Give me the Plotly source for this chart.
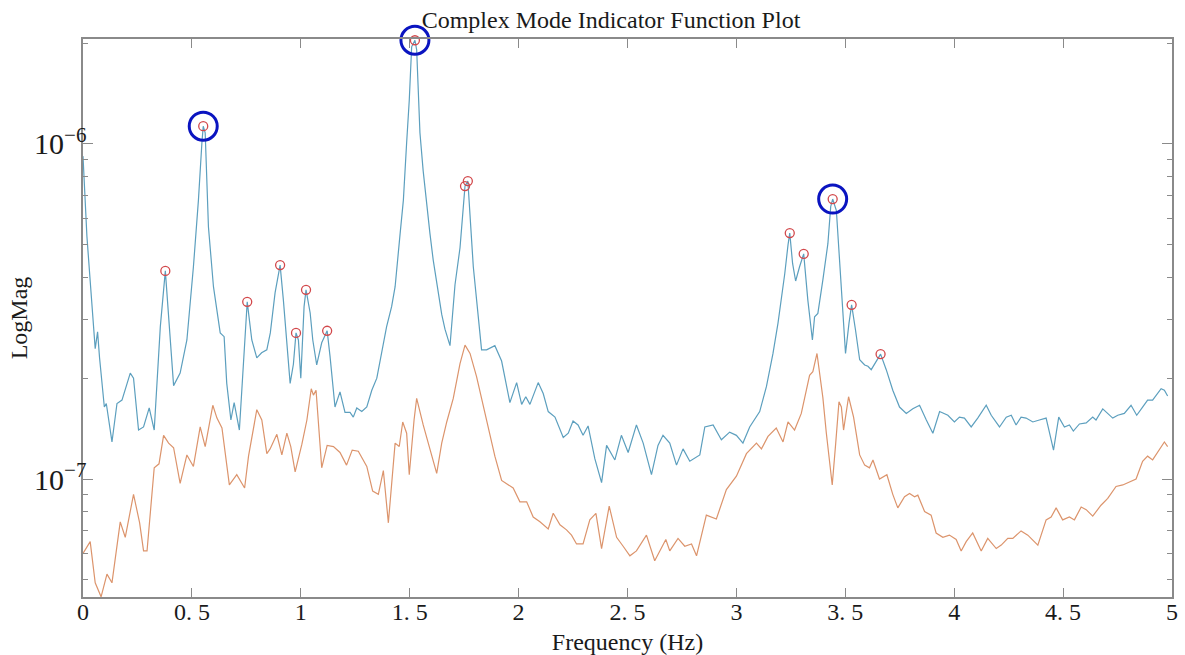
import plotly.graph_objects as go

SCALE = 1e-7  # magnitudes below are listed in units of 1e-7

# First singular value curve (upper, blue)
freq_1 = [0.0, 0.018, 0.033, 0.056, 0.067, 0.076, 0.098, 0.107, 0.133, 0.156, 0.179, 0.194,
          0.217, 0.232, 0.255, 0.278, 0.304, 0.327, 0.355, 0.378, 0.40, 0.416, 0.446, 0.477,
          0.507, 0.53, 0.546, 0.552, 0.561, 0.576, 0.599, 0.63, 0.648, 0.66, 0.679, 0.694,
          0.718, 0.737, 0.754, 0.775, 0.798, 0.82, 0.844, 0.86, 0.882, 0.905, 0.92, 0.951,
          0.966, 0.978, 0.989, 1.0, 1.015, 1.024, 1.043, 1.055, 1.073, 1.096, 1.121, 1.134,
          1.157, 1.18, 1.203, 1.226, 1.241, 1.257, 1.28, 1.303, 1.326, 1.349, 1.372, 1.394,
          1.417, 1.433, 1.456, 1.471, 1.486, 1.498, 1.509, 1.524, 1.532, 1.547, 1.562, 1.578,
          1.593, 1.608, 1.624, 1.647, 1.662, 1.685, 1.708, 1.731, 1.754, 1.767, 1.792, 1.815,
          1.83, 1.853, 1.868, 1.891, 1.922, 1.96, 1.991, 2.014, 2.033, 2.052, 2.09, 2.113,
          2.136, 2.167, 2.205, 2.228, 2.25, 2.273, 2.296, 2.319, 2.35, 2.381, 2.404, 2.442,
          2.472, 2.503, 2.541, 2.572, 2.61, 2.64, 2.663, 2.694, 2.725, 2.755, 2.786, 2.832,
          2.855, 2.893, 2.931, 2.969, 3.0, 3.03, 3.061, 3.107, 3.138, 3.168, 3.191, 3.206,
          3.222, 3.237, 3.245, 3.258, 3.272, 3.29, 3.309, 3.328, 3.349, 3.359, 3.374, 3.397,
          3.42, 3.433, 3.442, 3.459, 3.482, 3.501, 3.517, 3.529, 3.547, 3.566, 3.589, 3.604,
          3.619, 3.642, 3.662, 3.688, 3.718, 3.749, 3.78, 3.81, 3.841, 3.872, 3.902, 3.933,
          3.971, 4.001, 4.024, 4.047, 4.078, 4.108, 4.147, 4.17, 4.208, 4.239, 4.262, 4.284,
          4.307, 4.33, 4.361, 4.391, 4.422, 4.437, 4.456, 4.48, 4.506, 4.529, 4.547, 4.575,
          4.606, 4.636, 4.651, 4.682, 4.705, 4.728, 4.751, 4.781, 4.812, 4.838, 4.865, 4.888,
          4.911, 4.927, 4.95, 4.965, 4.98]
cmif_1 = [9.2, 5.3, 3.9, 2.45, 2.75, 2.3, 1.64, 1.68, 1.29, 1.68, 1.72, 1.84,
          2.07, 2.0, 1.4, 1.43, 1.63, 1.4, 2.85, 4.18, 2.73, 1.9, 2.07, 2.6,
          4.3, 6.8, 10.1, 11.3, 10.8, 5.65, 3.75, 2.73, 2.66, 1.93, 1.5, 1.69,
          1.4, 2.16, 3.38, 2.6, 2.3, 2.38, 2.43, 2.73, 3.6, 4.35, 3.42, 1.93,
          2.2, 2.73, 2.6, 2.0, 3.27, 3.67, 3.13, 2.6, 2.19, 2.55, 2.77, 2.33,
          1.64, 1.82, 1.58, 1.58, 1.53, 1.63, 1.59, 1.64, 1.84, 2.0, 2.38, 2.85,
          3.27, 3.75, 5.4, 6.8, 10.1, 13.5, 19.5, 20.4, 19.1, 10.8, 8.3, 6.5,
          5.4, 4.5, 3.9, 3.1, 2.8, 2.5, 3.8, 4.9, 7.49, 7.75, 4.3, 2.96,
          2.43, 2.43, 2.46, 2.5, 2.25, 1.69, 1.94, 1.67, 1.76, 1.67, 1.94, 1.8,
          1.59, 1.53, 1.33, 1.37, 1.49, 1.45, 1.35, 1.44, 1.15, 0.975, 1.26, 1.14,
          1.35, 1.2, 1.45, 1.28, 1.03, 1.26, 1.35, 1.28, 1.1, 1.23, 1.13, 1.18,
          1.43, 1.45, 1.31, 1.38, 1.35, 1.28, 1.43, 1.59, 1.89, 2.37, 2.92, 3.4,
          4.1, 5.0, 5.42, 4.4, 3.9, 4.3, 4.7, 3.42, 2.6, 3.05, 3.12, 3.93,
          5.04, 6.5, 6.85, 6.33, 3.84, 2.37, 2.92, 3.31, 2.78, 2.27, 2.19, 2.17,
          2.12, 2.24, 2.36, 2.12, 1.84, 1.64, 1.57, 1.62, 1.66, 1.5, 1.37, 1.59,
          1.55, 1.48, 1.53, 1.52, 1.43, 1.52, 1.66, 1.55, 1.43, 1.53, 1.55, 1.45,
          1.53, 1.52, 1.48, 1.5, 1.52, 1.38, 1.22, 1.53, 1.43, 1.45, 1.39, 1.46,
          1.47, 1.53, 1.5, 1.62, 1.57, 1.52, 1.55, 1.57, 1.66, 1.55, 1.64, 1.72,
          1.72, 1.78, 1.86, 1.84, 1.77]

# Second singular value curve (lower, orange)
freq_2 = [0.0, 0.033, 0.056, 0.083, 0.11, 0.133, 0.171, 0.194, 0.232, 0.26, 0.278, 0.294,
          0.327, 0.349, 0.37, 0.393, 0.416, 0.446, 0.477, 0.507, 0.538, 0.561, 0.596, 0.615,
          0.638, 0.672, 0.706, 0.742, 0.76, 0.798, 0.821, 0.844, 0.859, 0.89, 0.913, 0.936,
          0.954, 0.974, 1.005, 1.028, 1.048, 1.058, 1.07, 1.096, 1.121, 1.15, 1.18, 1.21,
          1.236, 1.264, 1.303, 1.33, 1.356, 1.379, 1.402, 1.433, 1.452, 1.468, 1.486, 1.498,
          1.52, 1.532, 1.562, 1.593, 1.624, 1.647, 1.67, 1.7, 1.731, 1.754, 1.777, 1.807,
          1.83, 1.853, 1.891, 1.922, 1.975, 2.006, 2.037, 2.067, 2.098, 2.136, 2.159, 2.19,
          2.22, 2.243, 2.266, 2.296, 2.327, 2.355, 2.381, 2.416, 2.45, 2.48, 2.511, 2.541,
          2.587, 2.625, 2.676, 2.694, 2.732, 2.763, 2.794, 2.817, 2.862, 2.908, 2.954, 3.0,
          3.046, 3.092, 3.115, 3.145, 3.183, 3.214, 3.237, 3.267, 3.298, 3.336, 3.351, 3.37,
          3.397, 3.413, 3.44, 3.456, 3.471, 3.482, 3.492, 3.515, 3.538, 3.566, 3.589, 3.611,
          3.627, 3.657, 3.691, 3.718, 3.741, 3.772, 3.795, 3.818, 3.833, 3.864, 3.894, 3.917,
          3.948, 3.978, 4.009, 4.032, 4.055, 4.085, 4.124, 4.154, 4.193, 4.216, 4.246, 4.269,
          4.307, 4.338, 4.384, 4.422, 4.445, 4.468, 4.498, 4.529, 4.552, 4.583, 4.606, 4.636,
          4.674, 4.705, 4.743, 4.774, 4.819, 4.835, 4.865, 4.888, 4.911, 4.942, 4.965, 4.98]
cmif_2 = [0.6, 0.65, 0.49, 0.445, 0.52, 0.49, 0.745, 0.67, 0.9, 0.74, 0.61, 0.61,
          1.08, 1.11, 1.35, 1.28, 1.24, 0.97, 1.18, 1.09, 1.43, 1.25, 1.66, 1.52,
          1.42, 0.96, 1.03, 0.94, 1.17, 1.61, 1.5, 1.19, 1.23, 1.36, 1.18, 1.37,
          1.25, 1.05, 1.27, 1.5, 1.86, 1.78, 1.84, 1.08, 1.26, 1.25, 1.2, 1.1,
          1.22, 1.21, 1.09, 0.92, 0.9, 1.06, 0.74, 1.28, 1.25, 1.48, 1.37, 1.03,
          1.5, 1.74, 1.45, 1.23, 1.04, 1.28, 1.48, 1.74, 2.21, 2.51, 2.37, 2.02,
          1.75, 1.5, 1.17, 0.99, 0.94, 0.855, 0.855, 0.77, 0.745, 0.71, 0.79, 0.73,
          0.705, 0.68, 0.64, 0.64, 0.755, 0.79, 0.62, 0.83, 0.67, 0.63, 0.59, 0.61,
          0.68, 0.57, 0.66, 0.61, 0.665, 0.63, 0.64, 0.59, 0.78, 0.76, 0.93, 1.02,
          1.19, 1.28, 1.23, 1.34, 1.42, 1.29, 1.48, 1.4, 1.57, 2.04, 2.09, 2.37,
          1.75, 1.37, 0.96, 1.28, 1.7, 1.64, 1.4, 1.76, 1.53, 1.18, 1.1, 1.08,
          1.14, 1.0, 1.03, 0.9, 0.82, 0.885, 0.905, 0.885, 0.895, 0.8, 0.78, 0.69,
          0.67, 0.68, 0.66, 0.61, 0.65, 0.69, 0.61, 0.665, 0.62, 0.635, 0.665, 0.665,
          0.7, 0.68, 0.635, 0.755, 0.77, 0.82, 0.755, 0.77, 0.755, 0.825, 0.81, 0.775,
          0.835, 0.875, 0.95, 0.96, 0.99, 1.0, 1.13, 1.17, 1.14, 1.22, 1.29, 1.25]

# Picked peaks (small red circles)
peak_freq = [0.378, 0.552, 0.754, 0.905, 0.978, 1.024, 1.121, 1.524, 1.754, 1.767,
             3.245, 3.309, 3.442, 3.529, 3.662]
peak_mag = [4.18, 11.3, 3.38, 4.35, 2.73, 3.67, 2.77, 20.4, 7.49, 7.75,
            5.42, 4.7, 6.85, 3.31, 2.36]

# Highlighted modes (large blue circles)
mode_freq = [0.552, 1.524, 3.442]
mode_mag = [11.3, 20.4, 6.85]

x_tick_vals = [0, 0.5, 1, 1.5, 2, 2.5, 3, 3.5, 4, 4.5, 5]
x_tick_text = ["0", "0. 5", "1", "1. 5", "2", "2. 5", "3", "3. 5", "4", "4. 5", "5"]

FONT = "Liberation Serif"
AXIS_GREY = "#8a8a8a"
FS = 24

fig = go.Figure()
fig.add_trace(go.Scatter(x=freq_2, y=[v * SCALE for v in cmif_2], mode="lines",
                         line=dict(color="#dc946c", width=1.2), showlegend=False))
fig.add_trace(go.Scatter(x=freq_1, y=[v * SCALE for v in cmif_1], mode="lines",
                         line=dict(color="#5c9fbe", width=1.2), showlegend=False))
fig.add_trace(go.Scatter(x=peak_freq, y=[v * SCALE for v in peak_mag], mode="markers",
                         cliponaxis=False,
                         marker=dict(symbol="circle-open", size=9, color="#d2484b",
                                     line=dict(width=1.3)), showlegend=False))
fig.add_trace(go.Scatter(x=mode_freq, y=[v * SCALE for v in mode_mag], mode="markers",
                         cliponaxis=False,
                         marker=dict(symbol="circle-open", size=28, color="#0a14c0",
                                     line=dict(width=3)), showlegend=False))

fig.update_layout(
    width=1185, height=655,
    margin=dict(l=83, r=13, t=39, b=58),
    paper_bgcolor="white", plot_bgcolor="white",
    font=dict(family=FONT, size=FS, color="#1a1a1a"),
    title=dict(text="Complex Mode Indicator Function Plot", x=611 / 1185, xref="container",
               xanchor="center", y=1 - 20 / 655, yref="container", yanchor="middle",
               font=dict(family=FONT, size=FS, color="#1a1a1a")),
    xaxis=dict(range=[0, 5], tickvals=x_tick_vals, ticktext=x_tick_text, automargin=False,
               ticks="inside", ticklen=9, tickcolor=AXIS_GREY, tickwidth=1,
               ticklabelstandoff=-8,
               showline=True, linecolor=AXIS_GREY, linewidth=1.5, mirror="ticks",
               showgrid=False, zeroline=False,
               tickfont=dict(family=FONT, size=FS),
               title=dict(text="Frequency (Hz)", standoff=10, font=dict(family=FONT, size=FS))),
    yaxis=dict(type="log", range=[-7.3522, -5.6866], dtick=1, exponentformat="power",
               automargin=False,
               ticks="inside", ticklen=10, tickcolor=AXIS_GREY, tickwidth=1,
               ticklabelstandoff=-10,
               showline=True, linecolor=AXIS_GREY, linewidth=1.5, mirror="ticks",
               showgrid=False, zeroline=False,
               minor=dict(ticks="inside", ticklen=5, tickcolor=AXIS_GREY, dtick="D1", showgrid=False),
               tickfont=dict(family=FONT, size=FS),
               title=dict(text="LogMag", standoff=0, font=dict(family=FONT, size=FS))),
)

fig.write_html("out.html")
